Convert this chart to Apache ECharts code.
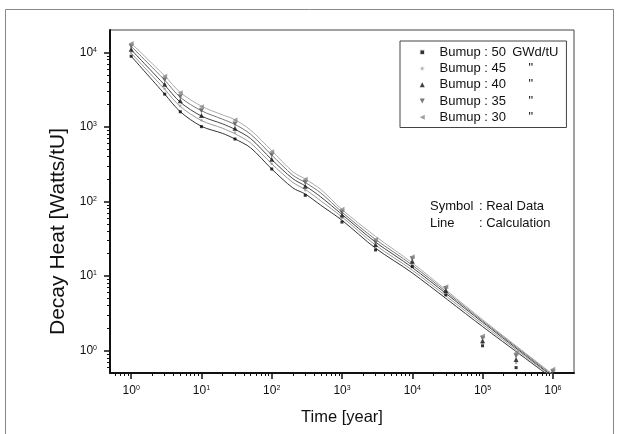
<!DOCTYPE html>
<html>
<head>
<meta charset="utf-8">
<script src="https://cdn.jsdelivr.net/npm/echarts@6/dist/echarts.min.js"></script>
<style>
   html, body { margin: 0; padding: 0; background: #fff; }
   #chart { width: 621px; height: 434px; }
</style>
</head>
<body>
<div id="chart"></div>
<script>
// real data (symbols)
const times = [1, 3, 5, 10, 30, 100, 300, 1000, 3000, 1e4, 3e4, 1e5, 3e5, 1e6];
const real50 = [8900, 2760, 1600, 1010, 690, 273, 121, 53, 22.4, 13.4, 5.6, 1.16, 0.59, 0.44];
const real45 = [9900, 3250, 1920, 1230, 840, 320, 142, 60, 24.5, 14.6, 6.0, 1.25, 0.68, 0.46];
const real40 = [11000, 3750, 2250, 1430, 960, 370, 160, 66, 26.5, 15.8, 6.4, 1.35, 0.76, 0.48];
const real35 = [12100, 4300, 2550, 1650, 1100, 420, 180, 72, 28.5, 17, 6.8, 1.46, 0.85, 0.52];
const real30 = [13200, 4810, 2870, 1870, 1240, 466, 199, 78.5, 31, 18.2, 7.2, 1.57, 0.93, 0.56];

// calculation (lines)
const calcTimes = [1, 3, 5, 10, 20, 30, 50, 100, 200, 300, 500, 1000, 3000, 1e4, 1e5, 1e6];
const calc50 = [8900, 2760, 1600, 1020, 820, 690, 526, 273, 152, 126, 89, 56, 23.6, 11, 2.1, 0.42];
const calc45 = [9800, 3200, 1880, 1220, 960, 810, 610, 320, 180, 145, 102, 62, 26, 12, 2.25, 0.44];
const calc40 = [10900, 3650, 2150, 1400, 1100, 930, 700, 365, 202, 162, 115, 67, 28.5, 13, 2.4, 0.45];
const calc35 = [12100, 4250, 2500, 1650, 1270, 1080, 800, 420, 225, 180, 130, 72, 31, 14, 2.5, 0.47];
const calc30 = [13300, 4850, 2900, 1900, 1450, 1250, 910, 480, 250, 200, 145, 78, 34, 15, 2.6, 0.48];

const burnups = ['50', '45', '40', '35', '30'];
const xMajor = [1, 10, 100, 1e3, 1e4, 1e5, 1e6];
const yMajor = [1, 10, 100, 1e3, 1e4];

const FONT = "'Liberation Sans', Arial, sans-serif";
const DOWN = 'path://M0,0L2,0L1,2Z';
const LEFT = 'path://M2,0L2,2L0,1Z';
const UP = 'path://M1,0L2,2L0,2Z';
const SQUARE = 'path://M0,0L2,0L2,2L0,2Z';

function minorTicks(lo, hi) {
   let out = [];
   for (let d = -1; d <= 6; d++) {
      for (let k = 2; k <= 9; k++) {
         let v = k * Math.pow(10, d);
         if (v > lo && v < hi) out.push(v);
      }
   }
   return out;
}

function powLabel(v) {
   return '{b|10}{s|' + Math.round(Math.log10(v)) + '}';
}

const powRich = {
   b: { fontSize: 12, color: '#111', fontFamily: FONT },
   s: { fontSize: 7, color: '#111', fontFamily: FONT, verticalAlign: 'top' }
};

const realSets = [real50, real45, real40, real35, real30];
const calcSets = [calc50, calc45, calc40, calc35, calc30];
const symbols = [SQUARE, 'circle', UP, DOWN, LEFT];
const symSize = [3, 2.5, 5, 5, 5];
const symColor = ['#000', '#999', '#111', '#555', '#888'];
const lineColor = ['#333', '#999', '#444', '#777', '#aaa'];

let series = [];
burnups.forEach((b, i) => {
   series.push({
      name: 'calc ' + b,
      type: 'line',
      data: calcTimes.map((t, j) => [t, calcSets[i][j]]),
      showSymbol: false,
      smooth: 0.3,
      lineStyle: { width: 1, color: lineColor[i] },
      z: 2
   });
   series.push({
      name: 'Bumup : ' + b,
      type: 'scatter',
      data: times.map((t, j) => [t, realSets[i][j]]),
      symbol: symbols[i],
      symbolSize: symSize[i],
      itemStyle: { color: symColor[i] },
      clip: true,
      z: 3
   });
});

const chart = echarts.init(document.getElementById('chart'));
chart.setOption({
   animation: false,
   textStyle: { fontFamily: FONT },
   grid: { left: 110, right: 47, top: 30, bottom: 61, show: true, borderColor: '#444', borderWidth: 1 },
   xAxis: [{
      type: 'log', min: 0.5, max: 2e6,
      name: 'Time [year]', nameLocation: 'middle', nameGap: 36,
      nameTextStyle: { fontSize: 16.5, color: '#111', fontFamily: FONT },
      axisLine: { lineStyle: { color: '#111', width: 2 } },
      axisTick: { customValues: xMajor, length: 6, lineStyle: { color: '#111', width: 1.5 } },
      axisLabel: { customValues: xMajor, formatter: powLabel, rich: powRich, margin: 12 },
      splitLine: { show: false }
   }, {
      type: 'log', min: 0.5, max: 2e6, position: 'bottom',
      axisLine: { show: false },
      axisTick: { customValues: minorTicks(0.5, 2e6), length: 3, lineStyle: { color: '#111', width: 1 } },
      axisLabel: { show: false },
      splitLine: { show: false }
   }],
   yAxis: [{
      type: 'log', min: 0.5, max: 2e4,
      name: 'Decay Heat [Watts/tU]', nameLocation: 'middle', nameGap: 37,
      nameTextStyle: { fontSize: 21, color: '#111', fontFamily: FONT, padding: [0, 60, 0, 0] },
      axisLine: { lineStyle: { color: '#111', width: 2 } },
      axisTick: { customValues: yMajor, length: 6, lineStyle: { color: '#111', width: 1.5 } },
      axisLabel: { customValues: yMajor, formatter: powLabel, rich: powRich, margin: 13 },
      splitLine: { show: false }
   }, {
      type: 'log', min: 0.5, max: 2e4, position: 'left',
      axisLine: { show: false },
      axisTick: { customValues: minorTicks(0.5, 2e4), length: 3, lineStyle: { color: '#111', width: 1 } },
      axisLabel: { show: false },
      splitLine: { show: false }
   }],
   legend: {
      left: 400, top: 41,
      orient: 'vertical',
      data: [
         { name: 'Bumup : 50', icon: SQUARE, itemStyle: { borderColor: '#fff', borderWidth: 1.5 } },
         { name: 'Bumup : 45', icon: 'circle', itemStyle: { borderColor: '#fff', borderWidth: 2.5 } },
         { name: 'Bumup : 40', icon: UP },
         { name: 'Bumup : 35', icon: DOWN },
         { name: 'Bumup : 30', icon: LEFT }
      ],
      itemWidth: 24.5, itemHeight: 5, itemGap: 0,
      padding: [3, 8, 2, 18.5],
      borderColor: '#444', borderWidth: 1,
      selectedMode: false,
      formatter: name => name === 'Bumup : 50'
         ? '{a|Bumup : 50}{g|GWd/tU}'
         : '{c|' + name + '}{q|"}',
      textStyle: {
         fontSize: 13, color: '#111', lineHeight: 16.3,
         rich: {
            a: { width: 72.7, fontSize: 13, lineHeight: 16.3, color: '#111' },
            g: { fontSize: 13, lineHeight: 16.3, color: '#111' },
            c: { width: 89, fontSize: 13, lineHeight: 16.3, color: '#111' },
            q: { fontSize: 13, lineHeight: 16.3, color: '#111' }
         }
      }
   },
   graphic: [{
      type: 'rect', silent: true,
      shape: { x: 5.5, y: 9.5, width: 608, height: 440 },
      style: { fill: 'none', stroke: '#888', lineWidth: 1 }
   }, {
      type: 'text', left: 430, top: 200,
      style: {
         text: '{a|Symbol}{b|: Real Data}\n{a|Line}{b|: Calculation}',
         rich: {
            a: { width: 49, fontSize: 13, lineHeight: 16.7, fill: '#111', fontFamily: FONT },
            b: { fontSize: 13, lineHeight: 16.7, fill: '#111', fontFamily: FONT }
         }
      }
   }],
   series: series
});
</script>
</body>
</html>
